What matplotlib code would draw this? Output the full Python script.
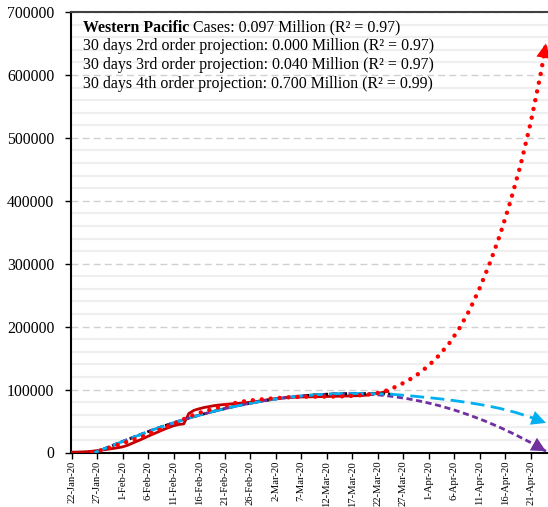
import numpy as np
import pandas as pd
import matplotlib
matplotlib.use("Agg")
import matplotlib.pyplot as plt
import matplotlib.dates as mdates
from matplotlib.ticker import MultipleLocator

plt.rcParams['font.family'] = ['Liberation Serif', 'DejaVu Serif']

start = pd.Timestamp('2020-01-22')

# reported cases, one value per day from 22-Jan-20
actual = [600, 650, 900, 1300, 2000, 3000, 4000, 5000, 6200, 7500,
          8900, 11500, 15000, 18500, 22000, 25800, 29300, 32800, 36300, 39500,
          42500, 44500, 45500, 62000, 67000, 69500, 71500, 73000, 74500, 75500,
          76300, 77000, 77700, 78300, 79000, 79800, 80800, 82000, 83300, 84500,
          85500, 86300, 87000, 87500, 88000, 88200, 88400, 88500, 88600, 88800,
          89000, 89200, 89400, 89500, 89800, 90000, 90300, 90600, 91200, 93000,
          94000, 95500, 97000]

# trendline (days since 22-Jan)
fit_days = [4.5, 6, 8, 10, 12, 14, 16, 18, 20, 22, 24, 26, 28, 30, 32, 34,
            36, 38, 40, 42, 44, 46, 48, 50, 52, 54, 56, 58, 60, 62, 63]
fit_vals = [0, 4500, 11000, 17500, 23800, 30000, 36200, 41800, 47200, 52200,
            57000, 61500, 65700, 69600, 73300, 76700, 79800, 82600, 85100,
            87200, 89000, 90500, 91700, 92600, 93200, 93600, 93700, 93600,
            93300, 92800, 92400]

# 2nd order projection
o2_days = fit_days[:-5] + [56, 58, 60, 62, 63, 66, 69, 72, 75, 78, 81, 84, 87, 90, 93]
o2_vals = fit_vals[:-5] + [93400, 92700, 91600, 90000, 89000, 85300, 80500, 74600,
                           67600, 59400, 50200, 39800, 28300, 15800, 2000]

# 3rd order projection
o3_days = fit_days + [66, 69, 72, 75, 78, 81, 84, 87, 90, 93]
o3_vals = fit_vals + [90300, 88000, 85500, 82500, 79000, 75000, 70000, 63800, 56000, 47000]

# 4th order projection
o4_days = list(range(4, 93, 2)) + [93]
o4_vals = [0, 4000, 9000, 14500, 20000, 25500, 32000, 38500, 45500, 53000,
           60000, 65500, 70000, 74500, 78500, 81500, 83500, 85000, 86300, 87500,
           88300, 88700, 88800, 88800, 89000, 89500, 90500, 92000, 94500, 99000,
           106000, 114500, 125000, 138000, 154000, 173000, 197000, 226000, 261000, 301000,
           346000, 398000, 456000, 524000, 603000, 650000]

lines_text = ["30 days 2rd order projection: 0.000 Million (R\u00b2 = 0.97)",
              "30 days 3rd order projection: 0.040 Million (R\u00b2 = 0.97)",
              "30 days 4th order projection: 0.700 Million (R\u00b2 = 0.99)"]


def to_dates(days):
    return start + pd.to_timedelta(np.asarray(days, dtype=float), unit='D')


fig = plt.figure(figsize=(5.48, 5.07), dpi=100)
ax = fig.add_axes([71 / 548, 1 - 452.5 / 507, 1 - 71 / 548, (452.5 - 12) / 507])

ax.plot(to_dates(range(len(actual))), actual, color='#C00000', lw=2.0, zorder=3)
ax.plot(to_dates(fit_days), fit_vals, color='black', lw=2.0, ls=(0, (2.2, 1.2)), zorder=4)

series = [(o2_days, o2_vals, '#7030A0', (0, (2.2, 1.3)), 2.0),
          (o3_days, o3_vals, '#00B0F0', (0, (5.0, 2.3)), 2.0),
          (o4_days, o4_vals, '#FF0000', (0, (0.01, 2.0)), 3.2)]
for days, vals, col, ls, lw in series:
    x = to_dates(days)
    ln, = ax.plot(x, vals, color=col, lw=lw, ls=ls, zorder=5)
    if col == '#FF0000':
        ln.set_dash_capstyle('round')
    xn = mdates.date2num(x)
    ax.annotate('', xy=(xn[-1], vals[-1]), xytext=(xn[-2], vals[-2]),
                arrowprops=dict(arrowstyle='-|>', color=col, lw=0,
                                mutation_scale=26, shrinkA=0, shrinkB=0),
                annotation_clip=False, zorder=6)

ax.set_ylim(0, 700000)
ax.set_xlim(start - pd.Timedelta(days=0.1), start + pd.Timedelta(days=93.4))
ax.yaxis.set_major_locator(MultipleLocator(100000))
ax.yaxis.set_minor_locator(MultipleLocator(20000))
ax.grid(which='minor', axis='y', color='#EFEFEF', lw=1.6, ls='-', zorder=0)
ax.grid(which='major', axis='y', color='#D0D0D0', lw=1.0, ls=(0, (5, 3)), zorder=1)
ax.set_axisbelow(True)

ticks = pd.date_range(start, periods=19, freq='5D')
ax.set_xticks(ticks)
ax.xaxis.set_major_formatter(mdates.DateFormatter('%-d-%b-%y'))
ax.tick_params(axis='x', labelrotation=90, labelsize=7.7, length=4, width=1, pad=2)
ax.tick_params(axis='y', which='major', labelsize=11.3, length=4, width=1, pad=8)
ax.tick_params(axis='y', which='minor', length=0)

for side in ['left', 'bottom']:
    ax.spines[side].set_color('black')
    ax.spines[side].set_linewidth(1.5)
ax.spines['top'].set_color('#404040')
ax.spines['top'].set_linewidth(1.5)
ax.spines['right'].set_visible(False)

x0 = 83 / 548
fs = 11.4
t = fig.text(x0, 1 - 31.7 / 507, 'Western Pacific', fontsize=fs, fontweight='bold', va='baseline')
ax.annotate(' Cases: 0.097 Million (R\u00b2 = 0.97)', xy=(1, 0), xycoords=t,
            fontsize=fs, va='bottom', ha='left')
for i, s in enumerate(lines_text):
    fig.text(x0, 1 - (50.5 + 18.5 * i) / 507, s, fontsize=fs, va='baseline')

fig.savefig('out.png', dpi=100)
